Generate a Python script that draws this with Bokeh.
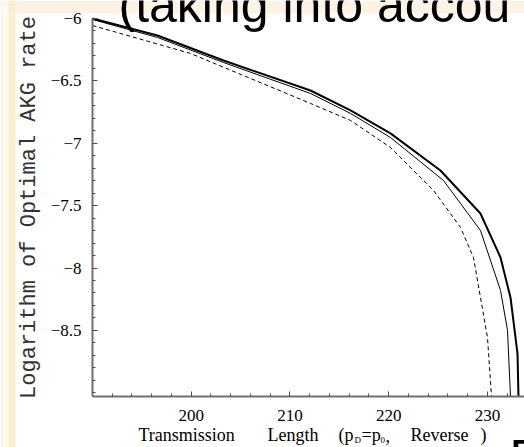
from bokeh.plotting import figure
from bokeh.models import Range1d, FixedTicker, Label, BoxAnnotation
from bokeh.embed import file_html
from bokeh.resources import INLINE
import numpy as np

# ---- data ----
x_top = [190.0, 196.58, 203.27, 212.08, 216.13, 220.18, 225.24, 229.29, 231.32, 232.33, 233.04, 233.14]
y_top = [-6.0, -6.136, -6.337, -6.577, -6.737, -6.921, -7.218, -7.563, -7.915, -8.236, -8.684, -9.03]

x_mid = [190.0, 196.58, 203.27, 212.08, 216.13, 220.18, 225.54, 229.29, 231.32, 232.03, 232.33]
y_mid = [-6.008, -6.152, -6.353, -6.601, -6.761, -6.954, -7.298, -7.699, -8.179, -8.5, -9.03]

x_dash = [190.0, 199.92, 212.08, 216.13, 220.18, 224.53, 227.27, 228.58, 230.0, 230.41]
y_dash = [-6.056, -6.28, -6.681, -6.817, -7.034, -7.378, -7.675, -7.915, -8.556, -9.03]

x_ticks = [200, 210, 220, 230]
x_tick_labels = ["200", "210", "220", "230"]
y_ticks = [-8.5, -8.0, -7.5, -7.0, -6.5, -6.0]
y_tick_labels = ["\u22128.5", "\u22128", "\u22127.5", "\u22127", "\u22126.5", "\u22126"]

# axis extents (data)
XA0, XA1 = 190.0, 233.75
YA0, YA1 = -9.03, -6.0

# page geometry of the plot box in the picture
W, H = 524, 447
PX_LEFT, PX_TOP, PX_BOTTOM = 92, 18, 396
SX = (W - PX_LEFT) / (XA1 - XA0)
SY = (PX_BOTTOM - PX_TOP) / (YA1 - YA0)

X0 = XA0 - PX_LEFT / SX
Y1 = YA1 + PX_TOP / SY
Y0 = YA0 - (H - PX_BOTTOM) / SY

p = figure(width=W, height=H, output_backend="svg", toolbar_location=None,
           x_range=Range1d(X0, XA1), y_range=Range1d(Y0, Y1),
           min_border_left=0, min_border_right=0, min_border_top=0, min_border_bottom=0)
p.background_fill_color = "#ffffff"
p.border_fill_color = "#ffffff"
p.outline_line_color = None
p.xgrid.visible = False
p.ygrid.visible = False

def dx(px):
    return X0 + px / SX
def dy(py):
    return Y1 - py / SY

# slide background bits
p.add_layout(BoxAnnotation(left=dx(0), right=dx(W), top=dy(0), bottom=dy(13),
                           fill_color="#fcf3e6", fill_alpha=1, line_color=None, level="underlay"))
p.add_layout(BoxAnnotation(left=dx(0), right=dx(8), top=dy(0), bottom=dy(H),
                           fill_color="#fdf8f0", fill_alpha=1, line_color=None, level="underlay"))
p.add_layout(BoxAnnotation(left=dx(8), right=dx(15), top=dy(0), bottom=dy(H),
                           fill_color="#f9edd2", fill_alpha=1, line_color=None, level="underlay"))

p.line(x_top, y_top, line_color="black", line_width=2)
p.line(x_mid, y_mid, line_color="black", line_width=1)
p.line(x_dash, y_dash, line_color="black", line_width=1, line_dash="4 3")

for ax in (p.xaxis[0], p.yaxis[0]):
    ax.axis_line_color = "#707070"
    ax.axis_line_width = 2
    ax.major_tick_line_color = "#505050"
    ax.minor_tick_line_color = "#505050"
    ax.major_tick_in = 5
    ax.major_tick_out = 0
    ax.minor_tick_in = 3
    ax.minor_tick_out = 0
    ax.major_label_text_font = "Liberation Serif"
    ax.major_label_text_font_size = "17px"
    ax.major_label_text_color = "black"

p.xaxis.fixed_location = YA0
p.xaxis.bounds = (XA0, XA1)
p.xaxis.ticker = FixedTicker(ticks=x_ticks, minor_ticks=list(np.arange(190, 234, 2)))
p.xaxis.major_label_overrides = {t: s for t, s in zip(x_ticks, x_tick_labels)}
p.xaxis.major_label_standoff = 13

p.yaxis.fixed_location = XA0
p.yaxis.bounds = (YA0, YA1)
p.yaxis.ticker = FixedTicker(ticks=y_ticks, minor_ticks=[round(v, 1) for v in np.arange(-9.0, -5.95, 0.1)])
p.yaxis.major_label_overrides = {t: s for t, s in zip(y_ticks, y_tick_labels)}
p.yaxis.major_label_standoff = 11
p.yaxis.axis_label = "Logarithm of Optimal AKG rate"
p.yaxis.axis_label_text_font = "Liberation Mono"
p.yaxis.axis_label_text_font_size = "22px"
p.yaxis.axis_label_text_font_style = "normal"
p.yaxis.axis_label_text_color = "#333333"
p.yaxis.axis_label_standoff = 6

def lab(txt, px, baseline, size=18, font="Liberation Serif"):
    # Bokeh places the label so that the anchor sits ~0.34em above the baseline
    p.add_layout(Label(x=dx(px), y=dy(baseline - 0.34 * size), text=txt, text_font=font,
                       text_font_size=f"{size}px", text_color="black",
                       text_baseline="alphabetic", text_align="left", level="overlay"))

# x-axis title pieces
base = 441
lab("Transmission", 138, base)
lab("Length", 267, base)
lab("(p", 338, base)
lab("D", 354, base + 2, size=9)
lab("=p", 361, base)
lab("0", 380, base + 2, size=9)
lab(",", 385, base)
lab("Reverse", 410, base)
lab(")", 480, base)

# overlaid slide text
lab("(taking into accou", 118, 21, size=50, font="Liberation Sans")
lab("E", 509, 474, size=50, font="Liberation Sans")

open("out.html", "w").write(file_html(p, INLINE))
